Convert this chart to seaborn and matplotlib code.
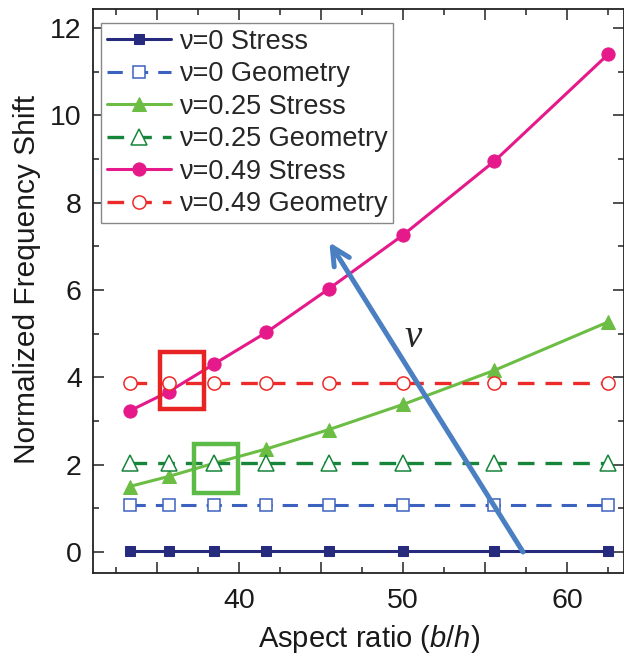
import matplotlib
matplotlib.use("Agg")
import matplotlib.pyplot as plt
import matplotlib.patches as mpatches
from matplotlib.ticker import MultipleLocator, FuncFormatter
import seaborn as sns
import numpy as np
import pandas as pd

sns.set_theme(style="ticks")
plt.rcParams['font.family'] = ['Liberation Sans', 'DejaVu Sans']
plt.rcParams['mathtext.fontset'] = 'custom'
plt.rcParams['mathtext.it'] = 'Liberation Sans:italic'
plt.rcParams['mathtext.rm'] = 'Liberation Sans'

# Data
aspect_ratio = [33.33, 35.71, 38.46, 41.67, 45.45, 50.0, 55.56, 62.5]
stress_nu0 = [0.02, 0.02, 0.02, 0.02, 0.02, 0.02, 0.02, 0.02]
geom_nu0 = [1.07, 1.07, 1.07, 1.07, 1.07, 1.07, 1.07, 1.07]
stress_nu025 = [1.50, 1.73, 2.03, 2.36, 2.80, 3.38, 4.16, 5.27]
geom_nu025 = [2.03, 2.03, 2.03, 2.03, 2.03, 2.03, 2.03, 2.03]
stress_nu049 = [3.23, 3.67, 4.30, 5.03, 6.02, 7.26, 8.95, 11.40]
geom_nu049 = [3.87, 3.87, 3.87, 3.87, 3.87, 3.87, 3.87, 3.87]

labels = ["ν=0 Stress", "ν=0 Geometry", "ν=0.25 Stress",
          "ν=0.25 Geometry", "ν=0.49 Stress", "ν=0.49 Geometry"]

fig = plt.figure(figsize=(6.24, 6.58), dpi=100)
ax = fig.add_axes([0.149, 0.1292, 0.851, 0.857])

series = [
    (stress_nu0, dict(color='#262b7e', marker='s', markersize=7.5, linestyle='-', lw=2.2,
                      markerfacecolor='#262b7e', markeredgecolor='#262b7e')),
    (geom_nu0, dict(color='#3c62c0', marker='s', markersize=8, linestyle=(0, (5, 3.3)), lw=2.2,
                    markerfacecolor='white', markeredgecolor='#3c62c0', markeredgewidth=1.1)),
    (stress_nu025, dict(color='#6cbd44', marker='^', markersize=10.5, linestyle='-', lw=2.2,
                        markerfacecolor='#6cbd44', markeredgecolor='#6cbd44')),
    (geom_nu025, dict(color='#17853a', marker='^', markersize=11, linestyle=(0, (5, 3.3)), lw=2.4,
                      markerfacecolor='white', markeredgecolor='#17853a', markeredgewidth=1.1)),
    (stress_nu049, dict(color='#e5198a', marker='o', markersize=9.5, linestyle='-', lw=2.2,
                        markerfacecolor='#e5198a', markeredgecolor='#e5198a')),
    (geom_nu049, dict(color='#ec2a2a', marker='o', markersize=9.5, linestyle=(0, (5, 3.3)), lw=2.4,
                      markerfacecolor='white', markeredgecolor='#ec2a2a', markeredgewidth=1.1)),
]

for (vals, kw), lab in zip(series, labels):
    df = pd.DataFrame({"x": aspect_ratio, "y": vals})
    sns.lineplot(data=df, x="x", y="y", ax=ax, label=lab, **kw)

# Highlight boxes
ax.add_patch(mpatches.Rectangle((35.2, 3.28), 2.67, 1.31, fill=False,
                                edgecolor='#e82323', lw=3.2, zorder=5))
ax.add_patch(mpatches.Rectangle((37.28, 1.35), 2.66, 1.13, fill=False,
                                edgecolor='#5cbb46', lw=3.2, zorder=5))

# Arrow
ax.annotate('', xy=(45.5, 7.09), xytext=(57.3, 0.0),
            arrowprops=dict(arrowstyle='->', color='#4a7fc1', lw=3.6,
                            mutation_scale=32, shrinkA=0, shrinkB=0), zorder=6)
ax.text(50.6, 4.92, 'ν', fontsize=28, family=['Liberation Serif', 'DejaVu Serif'],
        style='italic', ha='center', va='center')

ax.set_xlim(31.1, 63.45)
ax.set_ylim(-0.48, 12.43)
ax.xaxis.set_major_locator(MultipleLocator(5))
ax.xaxis.set_minor_locator(MultipleLocator(2.5))
ax.xaxis.set_major_formatter(FuncFormatter(lambda v, p: f"{int(v)}" if int(round(v)) % 10 == 0 else ""))
ax.yaxis.set_major_locator(MultipleLocator(2))
ax.yaxis.set_minor_locator(MultipleLocator(1))
ax.tick_params(which='both', direction='in', top=True, right=True, width=1.1, colors='#222222')
ax.tick_params(which='major', length=8, labelsize=20.5, labelcolor='#1a1a1a', pad=8)
ax.tick_params(axis='x', which='major', pad=11)
ax.tick_params(which='minor', length=4.3)
for s in ax.spines.values():
    s.set_linewidth(1.3)
    s.set_color('#222222')

ax.set_xlabel(r'Aspect ratio ($\it{b/h}$)', fontsize=21, color='#1a1a1a')
ax.set_ylabel('Normalized Frequency Shift', fontsize=21.5, color='#1a1a1a')
ax.xaxis.set_label_coords(0.519, -0.088)
ax.yaxis.set_label_coords(-0.098, 0.52)

leg = ax.legend(loc='upper left', bbox_to_anchor=(0.016, 0.975), fontsize=19.5,
                frameon=True, fancybox=False, edgecolor='#888888', framealpha=1,
                handlelength=2.35, handletextpad=0.3, labelspacing=0.24,
                borderpad=0.2, borderaxespad=0.0)
leg.get_frame().set_linewidth(1.0)

fig.savefig("out.png", dpi=100)
